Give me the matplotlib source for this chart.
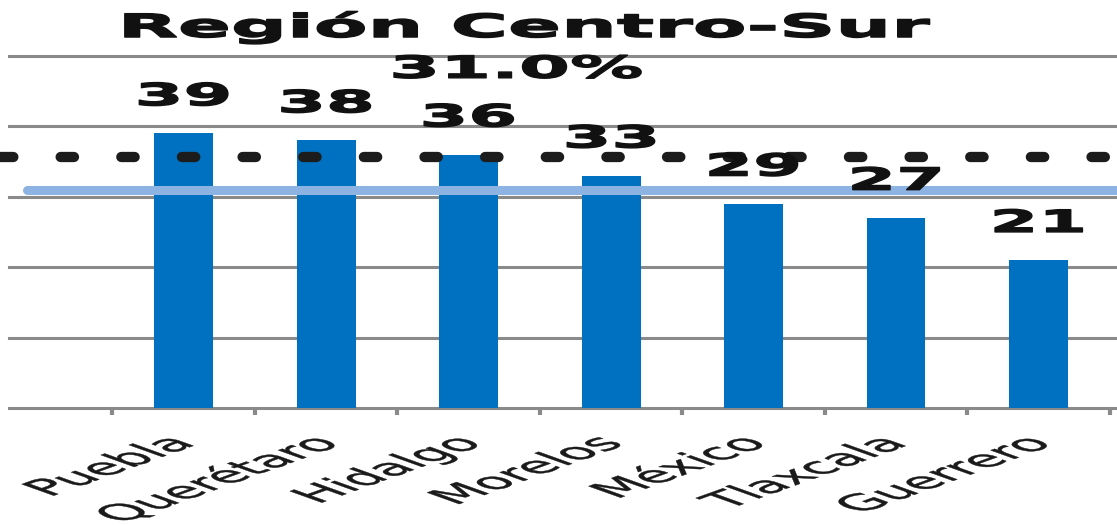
import matplotlib
matplotlib.use("Agg")
import matplotlib.pyplot as plt
from matplotlib import patheffects
from matplotlib.transforms import Affine2D

# ---- data ----
title = "Región Centro-Sur"
categories = ["Puebla", "Querétaro", "Hidalgo", "Morelos", "México", "Tlaxcala", "Guerrero"]
values = [39, 38, 36, 33, 29, 27, 21]
value_labels = ["39", "38", "36", "33", "29", "27", "21"]
regional_ref = 31.0
regional_label = "31.0%"
dotted_ref = 35.6
grid_levels = [0, 10, 20, 30, 40, 50]


class HStretch(patheffects.AbstractPathEffect):
    """Stretch rendered text horizontally (mimics the stretched source image)."""

    def __init__(self, sx, anchor="center", stroke=0.0):
        super().__init__()
        self.sx = sx
        self.anchor = anchor
        self.stroke = stroke

    def draw_path(self, renderer, gc, tpath, affine, rgbFace=None):
        ext = tpath.get_extents(affine)
        if self.anchor == "right":
            x0 = ext.x1
        elif self.anchor == "left":
            x0 = ext.x0
        else:
            x0 = 0.5 * (ext.x0 + ext.x1)
        new = affine + Affine2D().translate(-x0, 0).scale(self.sx, 1).translate(x0, 0)
        gc0 = renderer.new_gc()
        gc0.copy_properties(gc)
        if self.stroke > 0 and rgbFace is not None:
            gc0.set_linewidth(self.stroke)
            gc0.set_foreground(rgbFace)
            gc0.set_joinstyle("round")
        renderer.draw_path(gc0, tpath, new, rgbFace)
        gc0.restore()


W, H = 1117, 525
fig = plt.figure(figsize=(W / 100, H / 100), dpi=100)
fig.patch.set_facecolor("white")
ax = fig.add_axes([9 / W, 117 / H, 1108 / W, 352 / H])

x = list(range(len(categories)))
ax.bar(x, values, width=0.414, color="#0070C0", zorder=3)

for g in grid_levels:
    ax.axhline(g, color="#8a8a8a", lw=2.2, zorder=1, clip_on=False)

ax.set_xlim(-1.225, 6.551)
ax.set_ylim(0, 50)
for s in ax.spines.values():
    s.set_visible(False)
ax.set_yticks([])

# reference lines
ax.plot([-1.098, 7.5], [regional_ref, regional_ref], color="#8DB3E2", lw=6.5,
        solid_capstyle="round", zorder=4, clip_on=False)
ax.plot([-1.288, 7.5], [dotted_ref, dotted_ref], color="#1c1c1c", lw=7.4,
        ls=(0, (1.3, 4.6)), dash_capstyle="round", zorder=5, clip_on=False)

# value labels
for xi, v, lbl in zip(x, values, value_labels):
    ax.annotate(lbl, (xi, v), xytext=(0, 16), textcoords="offset points",
                ha="center", va="bottom", fontsize=22, fontweight="bold",
                color="#111111", zorder=6, path_effects=[HStretch(2.3, stroke=1.0)])

ax.text(2.34, 46.9, regional_label, ha="center", va="baseline", fontsize=22,
        fontweight="bold", color="#111111", zorder=6,
        path_effects=[HStretch(2.4, stroke=1.0)])

# ticks
ax.set_xticks(x)
ax.set_xticklabels(categories, rotation=45, ha="right", rotation_mode="anchor",
                   fontsize=16, color="#1a1a1a")
ax.tick_params(axis="x", which="major", length=0, pad=18)
ax.set_xticks([i - 0.5 for i in range(len(categories) + 1)], minor=True)
ax.tick_params(axis="x", which="minor", length=5, width=3, color="#8a8a8a",
               direction="out")
for t in ax.get_xticklabels():
    t.set_path_effects([HStretch(2.8, "right", stroke=0.3)])

fig.text(526 / W, 1 - 37 / H, title, ha="center", va="baseline", fontsize=23,
         fontweight="bold", color="#111111", path_effects=[HStretch(2.45, stroke=1.1)])

fig.savefig("out.png", dpi=100, facecolor="white")
